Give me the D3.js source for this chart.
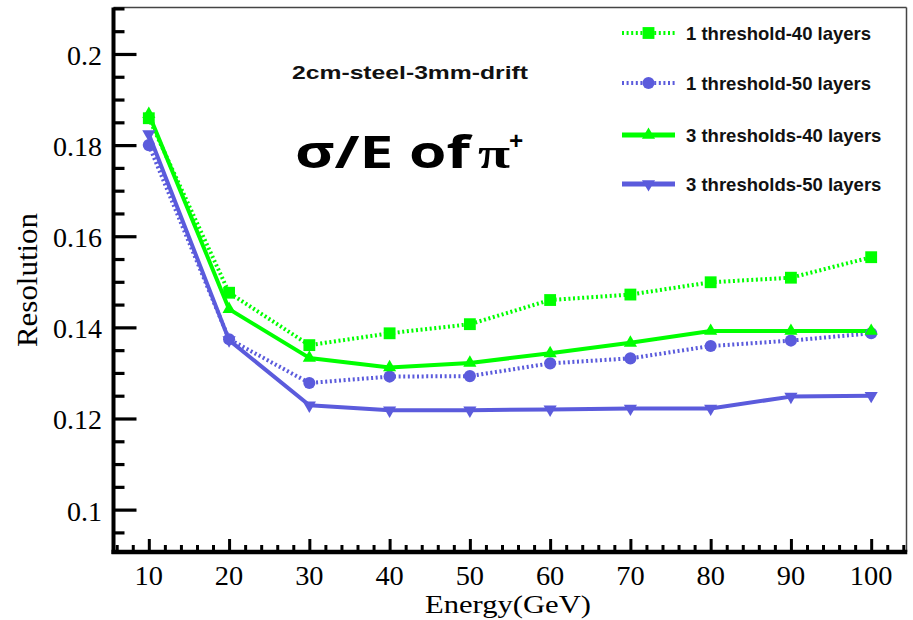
<!DOCTYPE html>
<html>
<head>
<meta charset="utf-8">
<script src="https://cdn.jsdelivr.net/npm/d3@7"></script>
<style>
  html, body { margin: 0; padding: 0; background: #fff; }
  svg { display: block; }
</style>
</head>
<body>
<svg id="chart" width="913" height="620"></svg>
<script>
// ---------------- data ----------------
const energies = [10, 20, 30, 40, 50, 60, 70, 80, 90, 100];
const seriesNames = ["1 threshold-40 layers", "1 threshold-50 layers", "3 thresholds-40 layers", "3 thresholds-50 layers"];
const oneThr40 = [0.1859, 0.1476, 0.1361, 0.1387, 0.1407, 0.1460, 0.1472, 0.1499, 0.1509, 0.1554];
const oneThr50 = [0.1800, 0.1374, 0.1278, 0.1292, 0.1293, 0.1321, 0.1332, 0.1359, 0.1371, 0.1387];
const threeThr40 = [0.1868, 0.1440, 0.1333, 0.1312, 0.1322, 0.1343, 0.1366, 0.1392, 0.1392, 0.1392];
const threeThr50 = [0.1824, 0.1372, 0.1229, 0.1218, 0.1218, 0.1220, 0.1222, 0.1222, 0.1248, 0.1250];
const yTickLabels = ["0.1", "0.12", "0.14", "0.16", "0.18", "0.2"];
const xTickLabels = ["10", "20", "30", "40", "50", "60", "70", "80", "90", "100"];
const xTitle = "Energy(GeV)";
const yTitle = "Resolution";
const subtitle = "2cm-steel-3mm-drift";

// ---------------- setup ----------------
const svg = d3.select("#chart");
const pLeft = 113.5, pRight = 906.5, pTop = 7.5, pBottom = 552;
const x = d3.scaleLinear().domain([5.6, 104.4]).range([pLeft, pRight]);
const y = d3.scaleLinear().domain([0.0907, 0.2102]).range([pBottom, pTop]);

const green = "#00ff00", blue = "#5b5bdc";
const serif = "'Liberation Serif', 'Times New Roman', serif";
const sans = "'Liberation Sans', Arial, sans-serif";

const series = [
  { name: seriesNames[0], values: oneThr40, color: green, dash: "2,2.6", symbol: d3.symbolSquare, size: 140, rot: 0 },
  { name: seriesNames[1], values: oneThr50, color: blue, dash: "2,2.6", symbol: d3.symbolCircle, size: 115, rot: 0 },
  { name: seriesNames[2], values: threeThr40, color: green, dash: null, symbol: d3.symbolTriangle, size: 75, rot: 0 },
  { name: seriesNames[3], values: threeThr50, color: blue, dash: null, symbol: d3.symbolTriangle, size: 75, rot: 180 }
];

// ---------------- frame ----------------
svg.append("line").attr("x1", pLeft).attr("x2", pRight).attr("y1", pTop).attr("y2", pTop)
  .attr("stroke", "#444").attr("stroke-width", 1.5);
svg.append("line").attr("x1", pRight).attr("x2", pRight).attr("y1", pTop).attr("y2", pBottom)
  .attr("stroke", "#444").attr("stroke-width", 1.5);

// ---------------- y axis ----------------
const yMinor = d3.range(0.095, 0.2101, 0.005).map(v => +v.toFixed(3));
const yMajor = yTickLabels.map(Number);
const yAxisMinor = d3.axisRight(y).tickValues(yMinor.filter(v => !yMajor.some(m => Math.abs(m - v) < 1e-6)))
  .tickSize(11).tickFormat("");
const yAxisMajor = d3.axisRight(y).tickValues(yMajor).tickSize(23).tickFormat("");
[yAxisMinor, yAxisMajor].forEach(ax => {
  const g = svg.append("g").attr("transform", `translate(${pLeft},0)`).call(ax);
  g.select(".domain").remove();
  g.selectAll("line").attr("stroke", "#000").attr("stroke-width", 3.2);
});
svg.append("g").selectAll("text").data(yTickLabels).join("text")
  .attr("x", 102).attr("y", d => y(+d) + 11)
  .attr("text-anchor", "end")
  .attr("font-family", serif).attr("font-size", 28).attr("fill", "#000")
  .text(d => d);

// ---------------- x axis ----------------
const xMinor = d3.range(6, 104.5, 2);
const xMajor = xTickLabels.map(Number);
const xAxisMinor = d3.axisTop(x).tickValues(xMinor.filter(v => v % 10 !== 0)).tickSize(7).tickFormat("");
const xAxisMajor = d3.axisTop(x).tickValues(xMajor).tickSize(13).tickFormat("");
[xAxisMinor, xAxisMajor].forEach(ax => {
  const g = svg.append("g").attr("transform", `translate(0,${pBottom})`).call(ax);
  g.select(".domain").remove();
  g.selectAll("line").attr("stroke", "#000").attr("stroke-width", 3);
});
svg.append("g").selectAll("text").data(xTickLabels).join("text")
  .attr("x", d => x(+d)).attr("y", 585)
  .attr("text-anchor", "middle")
  .attr("font-family", serif).attr("font-size", 27).attr("fill", "#000")
  .attr("textLength", d => d.length * 14.2).attr("lengthAdjust", "spacingAndGlyphs")
  .text(d => d);

// axis lines (thick)
svg.append("line").attr("x1", pLeft).attr("x2", pLeft).attr("y1", pTop).attr("y2", pBottom + 2)
  .attr("stroke", "#000").attr("stroke-width", 4);
svg.append("line").attr("x1", pLeft - 2).attr("x2", pRight + 0.75).attr("y1", pBottom).attr("y2", pBottom)
  .attr("stroke", "#000").attr("stroke-width", 4.5);

// axis titles
svg.append("text").attr("x", 508).attr("y", 613).attr("text-anchor", "middle")
  .attr("font-family", serif).attr("font-size", 26).attr("fill", "#000")
  .attr("textLength", 166).attr("lengthAdjust", "spacingAndGlyphs")
  .text(xTitle);
svg.append("text").attr("transform", "translate(37,280) rotate(-90)").attr("text-anchor", "middle")
  .attr("font-family", serif).attr("font-size", 29).attr("fill", "#000")
  .attr("textLength", 134).attr("lengthAdjust", "spacingAndGlyphs")
  .text(yTitle);

// ---------------- series ----------------
const line = d3.line().x((d, i) => x(energies[i])).y(d => y(d));
series.forEach(s => {
  svg.append("path").datum(s.values)
    .attr("d", line)
    .attr("fill", "none")
    .attr("stroke", s.color)
    .attr("stroke-width", 4)
    .attr("stroke-dasharray", s.dash)
    .attr("stroke-linejoin", "round");
});
series.forEach(s => {
  svg.append("g").selectAll("path").data(s.values).join("path")
    .attr("transform", (d, i) => `translate(${x(energies[i])},${y(d)}) rotate(${s.rot})`)
    .attr("d", d3.symbol().type(s.symbol).size(s.size))
    .attr("fill", s.color);
});

// ---------------- legend ----------------
const legendY = [33, 83, 135, 184];
const legend = svg.append("g");
series.forEach((s, i) => {
  const g = legend.append("g").attr("transform", `translate(0,${legendY[i]})`);
  g.append("line").attr("x1", 622).attr("x2", 675).attr("y1", 0).attr("y2", 0)
    .attr("stroke", s.color).attr("stroke-width", s.dash ? 4 : 5)
    .attr("stroke-dasharray", s.dash);
  g.append("path").attr("transform", `translate(648.5,0) rotate(${s.rot})`)
    .attr("d", d3.symbol().type(s.symbol).size(s.size)).attr("fill", s.color);
  g.append("text").attr("x", 686).attr("y", 6.5)
    .attr("font-family", sans).attr("font-weight", "bold").attr("font-size", 18.5).attr("fill", "#111")
    .text(s.name);
});

// ---------------- annotations ----------------
svg.append("text").attr("x", 292).attr("y", 79)
  .attr("font-family", sans).attr("font-weight", "bold").attr("font-size", 19).attr("fill", "#111")
  .attr("textLength", 236).attr("lengthAdjust", "spacingAndGlyphs")
  .text(subtitle);
svg.append("text").attr("x", 295).attr("y", 168)
  .attr("font-family", "'Open Sans', 'Noto Sans', sans-serif").attr("font-weight", "bold")
  .attr("font-size", 45).attr("fill", "#000")
  .attr("textLength", 175).attr("lengthAdjust", "spacingAndGlyphs")
  .text("σ/E of");
svg.append("text").attr("x", 478).attr("y", 168)
  .attr("font-family", serif).attr("font-weight", "bold")
  .attr("font-size", 45).attr("fill", "#000")
  .attr("textLength", 32).attr("lengthAdjust", "spacingAndGlyphs")
  .text("π");
svg.append("text").attr("x", 509).attr("y", 150)
  .attr("font-family", "'Open Sans', 'Noto Sans', sans-serif").attr("font-weight", "bold")
  .attr("font-size", 25).attr("fill", "#000")
  .text("+");
</script>
</body>
</html>
